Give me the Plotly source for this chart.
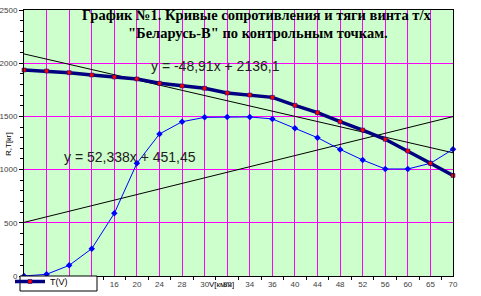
import plotly.graph_objects as go
import numpy as np

categories = ["0", "4", "8", "12", "16", "20", "24", "28", "30", "32",
              "34", "36", "40", "44", "48", "52", "56", "60", "65", "70"]
T_values = [1936, 1927, 1911, 1889, 1870, 1852, 1811, 1786, 1764, 1720,
            1701, 1679, 1604, 1535, 1450, 1372, 1285, 1175, 1059, 945]
R_values = [0, 16, 100, 257, 589, 1059, 1335, 1450, 1491, 1495,
            1495, 1476, 1388, 1300, 1190, 1090, 1006, 1006, 1059, 1191]
trend1 = [-48.91, 2136.1]
trend2 = [52.338, 451.45]
trend1_label = "y = -48,91x + 2136,1"
trend2_label = "y = 52,338x + 451,45"

idx = np.arange(1, len(categories) + 1)

fig = go.Figure()
fig.add_trace(go.Scatter(x=idx, y=trend1[0] * idx + trend1[1], mode="lines",
                         line=dict(color="black", width=1), showlegend=False,
                         hoverinfo="skip"))
fig.add_trace(go.Scatter(x=idx, y=trend2[0] * idx + trend2[1], mode="lines",
                         line=dict(color="black", width=1), showlegend=False,
                         hoverinfo="skip"))
fig.add_trace(go.Scatter(x=idx, y=R_values, mode="lines+markers",
                         line=dict(color="#0000FF", width=1),
                         marker=dict(color="#0000FF", size=5, symbol="diamond"),
                         showlegend=False, name="R(V)", cliponaxis=False))
fig.add_trace(go.Scatter(x=idx, y=T_values, mode="lines+markers",
                         line=dict(color="#000080", width=3.5),
                         marker=dict(color="#FF0000", size=4, symbol="square",
                                     line=dict(color="#000080", width=0.5)),
                         name="T(V)", cliponaxis=False))

L, R, Tm, B = 24, 481 - 28, 10, 296 - 20
W, H = R - L, B - Tm


def px_x(p):
    return (p - L) / W


def px_y(p):
    return (B - p) / H


fig.update_layout(
    width=481, height=296,
    margin=dict(l=L, r=481 - R, t=Tm, b=296 - B, autoexpand=False),
    paper_bgcolor="white",
    plot_bgcolor="#CCFFCC",
    font=dict(family="Liberation Sans, Arial", size=8, color="#404040"),
    showlegend=True,
    legend=dict(x=px_x(10), y=px_y(267), xanchor="left", yanchor="top",
                bgcolor="rgba(0,0,0,0)", borderwidth=0,
                font=dict(size=9, color="black"), itemwidth=30,
                tracegroupgap=0),
)
fig.update_xaxes(
    range=[1, len(categories)],
    tickmode="array", tickvals=idx, ticktext=categories,
    showgrid=True, gridcolor="#FF00FF", gridwidth=1,
    showline=True, linecolor="black", linewidth=1, mirror=True,
    ticks="", zeroline=False, automargin=False,
    minor=dict(tickmode="linear", tick0=1.5, dtick=1, ticks="outside",
               ticklen=3, tickcolor="black", showgrid=False),
)
fig.update_yaxes(
    range=[0, 2500], dtick=500, tick0=0,
    showgrid=True, gridcolor="#FF00FF", gridwidth=1,
    showline=True, linecolor="black", linewidth=1, mirror=True,
    ticks="outside", ticklen=4, tickcolor="black", zeroline=False,
    automargin=False,
    minor=dict(dtick=100, ticks="outside", ticklen=3, tickcolor="black",
               showgrid=False),
)

# legend frame (white box with black border, as in the original)
fig.add_shape(type="rect", xref="paper", yref="paper",
              x0=px_x(20), x1=px_x(97), y0=px_y(291), y1=px_y(276),
              fillcolor="white", line=dict(color="black", width=1),
              layer="above")

serif = "Liberation Serif, Times New Roman"
sans = "Liberation Sans, Arial"
texts = [
    ("<b>График №1. Кривые сопротивления и тяги винта т/х</b>", 256, 15, "center",
     dict(family=serif, size=14.5, color="black"), 0),
    ("<b>\"Беларусь-В\" по контрольным точкам.</b>", 258, 33, "center",
     dict(family=serif, size=14.5, color="black"), 0),
    (trend1_label, 149, 66, "left", dict(family=sans, size=14, color="#202020"), 0),
    (trend2_label, 62, 157, "left", dict(family=sans, size=14, color="#202020"), 0),
    ("V[км/ч]", 221, 284, "center", dict(family=sans, size=8, color="black"), 0),
    ("R,T[кг]", 8, 144, "center", dict(family=sans, size=8, color="black"), -90),
]
for txt, px, py, xa, fnt, ang in texts:
    fig.add_annotation(x=px_x(px), y=px_y(py),
                       xref="paper", yref="paper", xanchor=xa, yanchor="middle",
                       text=txt, showarrow=False, font=fnt, textangle=ang)

fig.write_html("out.html")
